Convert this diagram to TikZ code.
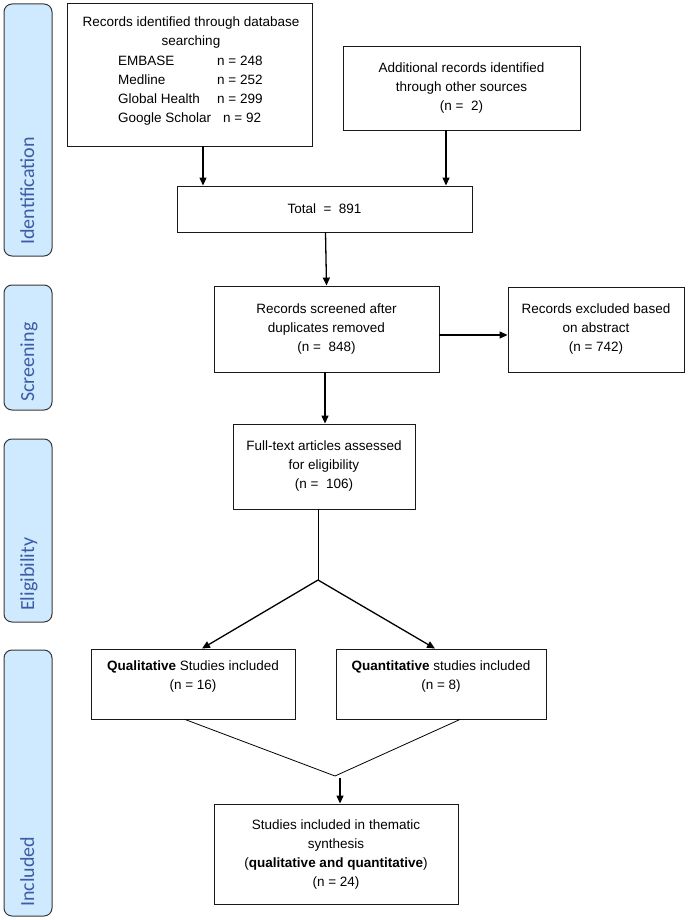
\documentclass[tikz,border=0pt]{standalone}
\usepackage{fontspec}
\setmainfont{Liberation Sans}
\newfontfamily\sidefont{Carlito}
\usetikzlibrary{arrows.meta,calc}
\definecolor{sidefill}{RGB}{207,233,255}
\definecolor{sidetext}{RGB}{60,92,165}
\definecolor{sideline}{RGB}{55,55,55}
\tikzset{
  box/.style={draw=black!90, line width=0.9pt, inner sep=0pt, align=center,
    font=\fontsize{13.5}{19}\selectfont},
  txt/.style={inner sep=0pt, align=center, font=\fontsize{13.5}{19}\selectfont},
  sidebar/.style={draw=sideline, fill=sidefill, rounded corners=8pt, line width=1pt,
    inner sep=0pt, minimum width=48pt},
  sidelabel/.style={rotate=90, anchor=base west, text=sidetext, inner sep=0pt,
    font=\sidefont\fontsize{20}{24}\selectfont},
  arr/.style={line width=1.3pt, -{Triangle[length=8pt,width=7pt]}},
  plainline/.style={line width=0.8pt}
}
\begin{document}
\begin{tikzpicture}[x=1pt,y=-1pt]
\useasboundingbox (0,0) rectangle (688,920);

% side bars
\node[sidebar, minimum height=252pt] (sid) at (28,130) {};
\node[sidebar, minimum height=125pt] (sscr) at (28,347.5) {};
\node[sidebar, minimum height=183pt] (selig) at (28,530.5) {};
\node[sidebar, minimum height=266pt] (sinc) at (28,783) {};
\node[sidelabel] (lid) at (34,245) {Identification};
\node[sidelabel] (lscr) at (34,402) {Screening};
\node[sidelabel] (lelig) at (34,611) {Eligibility};
\node[sidelabel] (linc) at (34,907) {Included};

% identification
\node[box, minimum width=245pt, minimum height=143pt] (db) at (189.5,74.5) {};
\node[txt, anchor=north] (dbtitle) at (191,17) {Records identified through database\\searching};
\node[txt, anchor=north west] (dblist) at (118,51.7) {\begin{tabular}{@{}p{99pt}@{}l@{}}EMBASE & n = 248\\Medline & n = 252\\Global Health & n = 299\\Google Scholar & \hspace{6pt}n = 92\end{tabular}};

\node[box, minimum width=237pt, minimum height=84pt] (add) at (461.5,88)
  {Additional records identified\\through other sources\\(n =\ \ 2)};
\node[box, minimum width=295pt, minimum height=46pt] (total) at (324.5,209)
  {Total\ \ =\ \ 891};

% screening
\node[box, minimum width=225pt, minimum height=86pt] (scr) at (326.5,329)
  {Records screened after\\duplicates removed\\(n =\ \ 848)};
\node[box, minimum width=176pt, minimum height=85pt] (exc) at (596,329.5)
  {Records excluded based\\on abstract\\(n = 742)};

% eligibility
\node[box, minimum width=182pt, minimum height=85pt] (full) at (324,466.5)
  {Full-text articles assessed\\for eligibility\\(n =\ \ 106)};

% included
\node[box, minimum width=204pt, minimum height=70pt] (qual) at (193,684) {};
\node[txt] (qualtxt) at (193,676) {\textbf{Qualitative} Studies included\\(n = 16)};
\node[box, minimum width=210pt, minimum height=70pt] (quant) at (441,684) {};
\node[txt] (quanttxt) at (441,676) {\textbf{Quantitative} studies included\\(n = 8)};
\node[box, minimum width=244pt, minimum height=100pt] (final) at (336,854)
  {Studies included in thematic\\synthesis\\(\textbf{qualitative and quantitative})\\(n = 24)};

% connectors
\coordinate (xa) at (203,0);
\coordinate (xb) at (446,0);
\draw[arr] (db.south -| xa) -- (total.north -| xa);
\draw[arr] (add.south -| xb) -- (total.north -| xb);
\draw[arr] ($(total.south)+(1,0)$) -- ($(scr.north)+(0,0)$);
\draw[arr] (scr.east |- 0,335) -- (exc.west |- 0,335);
\draw[arr] ($(scr.south)+(-1.5,0)$) -- ($(full.north)+(1,0)$);

\coordinate (apex) at (318,580);
\draw[plainline] ($(full.south)+(-6,0)$) -- (apex);
\draw[arr] (apex) -- ($(qual.north)+(9,0)$);
\draw[arr] (apex) -- ($(quant.north)+(-6,0)$);

\coordinate (apexb) at (335,776);
\draw[plainline] ($(qual.south)+(-8,0)$) -- (apexb) -- ($(quant.south)+(19,0)$);
\coordinate (arrstart) at (340,778);
\draw[arr] (arrstart) -- (final.north -| arrstart);
\end{tikzpicture}
\end{document}
